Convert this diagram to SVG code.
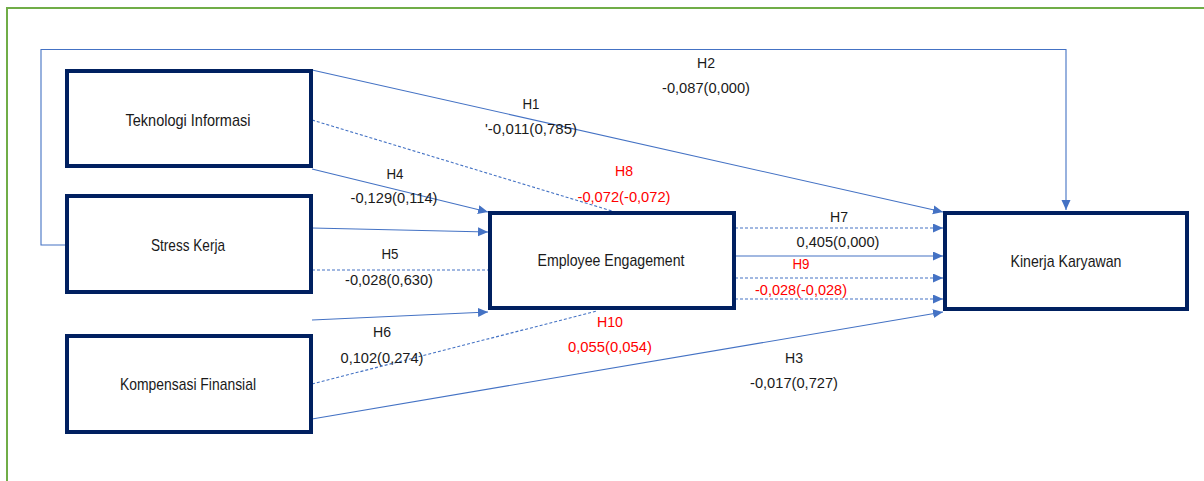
<svg xmlns="http://www.w3.org/2000/svg" width="1204" height="481" viewBox="0 0 1204 481">
<style>
.bg{fill:#fff}
.frame{fill:none;stroke:#70AD47;stroke-width:2}
.box{fill:#fff;stroke:#002060;stroke-width:4}
.c{fill:none;stroke:#4472C4;stroke-width:1.1}
.d{stroke-dasharray:3 2}
.nt{font-family:"Liberation Sans",Arial,sans-serif;font-size:17px;fill:#1a1a1a;text-anchor:middle}
.lt{font-family:"Liberation Sans",Arial,sans-serif;font-size:15.5px;fill:#1a1a1a;text-anchor:middle}
.red{fill:#FF0000}
</style>
<defs>
<marker id="ah" markerUnits="userSpaceOnUse" markerWidth="10" markerHeight="10" refX="10" refY="4.5" orient="auto">
<path d="M0,0 L10,4.5 L0,9 z" fill="#4472C4"/>
</marker>
</defs>
<rect class="bg" x="0" y="0" width="1204" height="481"/>
<path class="frame" d="M7,481 L7,8 L1204,8"/>

<g id="connectors">
<path class="c" d="M65,245 L41,245 L41,49.5 L1066,49.5 L1066,210" marker-end="url(#ah)"/>
<path class="c" d="M312,70 L943,212" marker-end="url(#ah)"/>
<path class="c d" d="M312,120 L612,211"/>
<path class="c" d="M312,169 L488,212" marker-end="url(#ah)"/>
<path class="c" d="M312,228 L488,232" marker-end="url(#ah)"/>
<path class="c d" d="M312,270 L488,270"/>
<path class="c" d="M312,320 L488,312" marker-end="url(#ah)"/>
<path class="c d" d="M312,384 L597,311"/>
<path class="c" d="M312,419 L943,312" marker-end="url(#ah)"/>
<path class="c d" d="M735,228 L943,228" marker-end="url(#ah)"/>
<path class="c" d="M735,256 L943,256" marker-end="url(#ah)"/>
<path class="c d" d="M735,278 L943,278" marker-end="url(#ah)"/>
<path class="c d" d="M735,299 L943,299" marker-end="url(#ah)"/>
</g>

<g id="node-teknologi">
<rect class="box" x="67" y="71" width="244" height="95"/>
<text class="nt" x="188" y="126" textLength="125" lengthAdjust="spacingAndGlyphs">Teknologi Informasi</text>
</g>
<g id="node-stress">
<rect class="box" x="67" y="196" width="244" height="96"/>
<text class="nt" x="188" y="251" textLength="74" lengthAdjust="spacingAndGlyphs">Stress Kerja</text>
</g>
<g id="node-kompensasi">
<rect class="box" x="67" y="336" width="244" height="96"/>
<text class="nt" x="188" y="390" textLength="136" lengthAdjust="spacingAndGlyphs">Kompensasi Finansial</text>
</g>
<g id="node-engagement">
<rect class="box" x="490" y="213" width="244" height="95"/>
<text class="nt" x="611" y="266" textLength="147" lengthAdjust="spacingAndGlyphs">Employee Engagement</text>
</g>
<g id="node-kinerja">
<rect class="box" x="945" y="213" width="242" height="96"/>
<text class="nt" x="1066" y="267" textLength="111" lengthAdjust="spacingAndGlyphs">Kinerja Karyawan</text>
</g>

<g id="labels">
<text class="lt" x="706" y="68" textLength="18" lengthAdjust="spacingAndGlyphs">H2</text>
<text class="lt" x="706" y="93" textLength="88" lengthAdjust="spacingAndGlyphs">-0,087(0,000)</text>
<text class="lt" x="531" y="109" textLength="17" lengthAdjust="spacingAndGlyphs">H1</text>
<text class="lt" x="531" y="134" textLength="92" lengthAdjust="spacingAndGlyphs">'-0,011(0,785)</text>
<text class="lt" x="395" y="179" textLength="17" lengthAdjust="spacingAndGlyphs">H4</text>
<text class="lt" x="394" y="203" textLength="87" lengthAdjust="spacingAndGlyphs">-0,129(0,114)</text>
<text class="lt red" x="624" y="176" textLength="18" lengthAdjust="spacingAndGlyphs">H8</text>
<text class="lt red" x="624" y="202" textLength="93" lengthAdjust="spacingAndGlyphs">-0,072(-0,072)</text>
<text class="lt" x="390" y="259" textLength="17" lengthAdjust="spacingAndGlyphs">H5</text>
<text class="lt" x="389" y="285" textLength="88" lengthAdjust="spacingAndGlyphs">-0,028(0,630)</text>
<text class="lt" x="382" y="337" textLength="18" lengthAdjust="spacingAndGlyphs">H6</text>
<text class="lt" x="382" y="363" textLength="83" lengthAdjust="spacingAndGlyphs">0,102(0,274)</text>
<text class="lt" x="839" y="222" textLength="18" lengthAdjust="spacingAndGlyphs">H7</text>
<text class="lt" x="838" y="247" textLength="83" lengthAdjust="spacingAndGlyphs">0,405(0,000)</text>
<text class="lt red" x="801" y="269" textLength="17" lengthAdjust="spacingAndGlyphs">H9</text>
<text class="lt red" x="801" y="295" textLength="92" lengthAdjust="spacingAndGlyphs">-0,028(-0,028)</text>
<text class="lt red" x="610" y="327" textLength="26" lengthAdjust="spacingAndGlyphs">H10</text>
<text class="lt red" x="610" y="352" textLength="84" lengthAdjust="spacingAndGlyphs">0,055(0,054)</text>
<text class="lt" x="794" y="363" textLength="18" lengthAdjust="spacingAndGlyphs">H3</text>
<text class="lt" x="794" y="388" textLength="88" lengthAdjust="spacingAndGlyphs">-0,017(0,727)</text>
</g>
</svg>
